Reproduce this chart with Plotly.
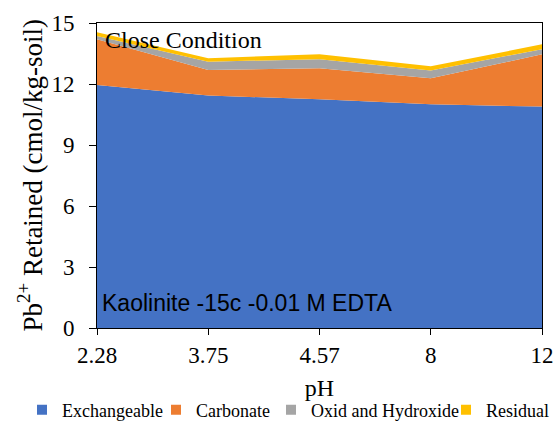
import plotly.graph_objects as go

ph_labels = ["2.28", "3.75", "4.57", "8", "12"]
exchangeable = [11.95, 11.43, 11.25, 11.00, 10.89]
carbonate = [2.25, 1.26, 1.52, 1.28, 2.57]
oxid_hydroxide = [0.16, 0.41, 0.45, 0.38, 0.25]
residual = [0.18, 0.17, 0.24, 0.21, 0.24]

series = [
    ("Exchangeable", exchangeable, "#4472C4"),
    ("Carbonate", carbonate, "#ED7D31"),
    ("Oxid and Hydroxide", oxid_hydroxide, "#A5A5A5"),
    ("Residual", residual, "#FFC000"),
]

W, H = 556, 421
serif = "Liberation Serif"

fig = go.Figure()
for name, vals, col in series:
    fig.add_trace(go.Scatter(
        x=ph_labels, y=vals, name=name, mode="lines",
        stackgroup="one", line=dict(width=0, color=col),
        fillcolor=col, showlegend=False,
    ))

# one small legend per entry so each can be placed like the reference
legend_ids = ["legend", "legend2", "legend3", "legend4"]
legend_text_x = [62, 196, 311, 486]
legend_layout = {}
for (name, vals, col), lid, tx in zip(series, legend_ids, legend_text_x):
    fig.add_trace(go.Scatter(
        x=[None], y=[None], name=name, mode="markers",
        marker=dict(symbol="square", size=10, color=col),
        showlegend=True, legend=lid,
    ))
    legend_layout[lid] = dict(
        xref="container", yref="container",
        x=(tx - 40) / W, xanchor="left", y=1 - 410 / H, yanchor="middle",
        font=dict(family=serif, size=18, color="black"), itemwidth=30,
        bgcolor="rgba(0,0,0,0)", borderwidth=0,
    )

fig.update_layout(
    width=W, height=H,
    margin=dict(l=97, r=14, t=23, b=93, autoexpand=False),
    paper_bgcolor="white", plot_bgcolor="white",
    font=dict(family=serif, size=22, color="black"),
    showlegend=True,
    xaxis=dict(type="category", range=[0, 4], showline=True, linecolor="black",
               linewidth=1, mirror=True, ticks="outside", ticklen=6,
               tickcolor="black", showgrid=False,
               title=dict(text="pH", font=dict(size=24), standoff=12),
               tickfont=dict(size=23)),
    yaxis=dict(range=[0, 15], dtick=3, showline=True, linecolor="black",
               linewidth=1, mirror=True, ticks="outside", ticklen=7,
               tickcolor="black", showgrid=False, zeroline=False,
               ticklabelstandoff=10,
               tickfont=dict(size=23)),
    annotations=[
        dict(text="Pb<sup>2+</sup> Retained (cmol/kg-soil)", textangle=-90,
             x=0.0, xref="paper", xshift=-67, xanchor="center",
             y=0.5, yref="paper", yanchor="middle", showarrow=False,
             font=dict(family=serif, size=27, color="black")),
        dict(text="Close Condition", x=0.0, xref="paper", y=14.15, yref="y",
             xanchor="left", yanchor="middle", showarrow=False, xshift=6,
             font=dict(family=serif, size=24, color="black")),
        dict(text="Kaolinite -15c -0.01 M EDTA", x=0.0, xref="paper", y=1.25, yref="y",
             xanchor="left", yanchor="middle", showarrow=False, xshift=3,
             font=dict(family="Liberation Sans", size=23, color="black")),
    ],
    **legend_layout,
)

fig.write_html("out.html", config={"displayModeBar": False},
               post_script="document.body.style.margin='0';document.body.style.overflow='hidden';")
